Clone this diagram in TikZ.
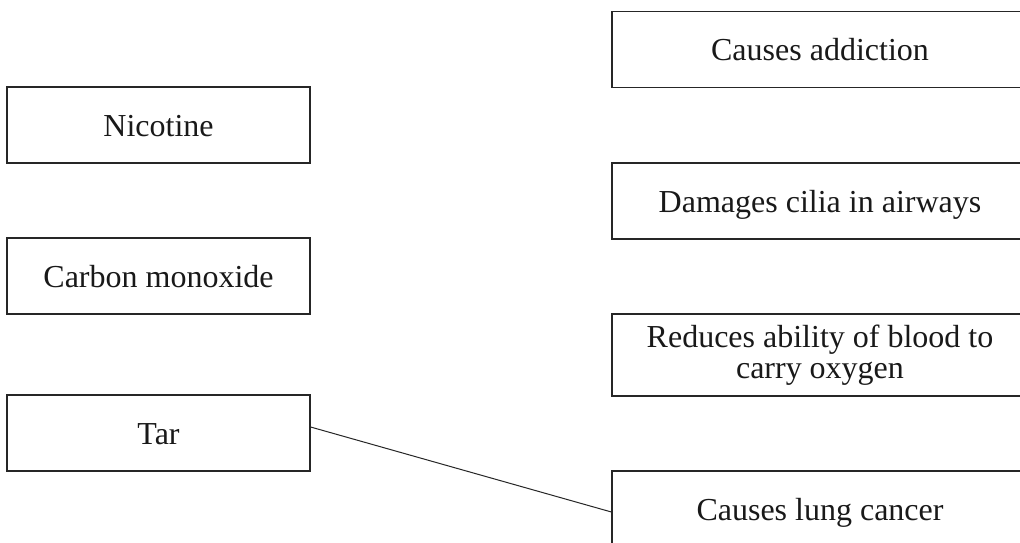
\documentclass[tikz,border=0pt]{standalone}
\usepackage{fontspec}
\setmainfont{Liberation Serif}
\begin{document}
\begin{tikzpicture}[x=1pt,y=-1pt,
  box/.style={draw=black!85,line width=1.2pt,rectangle,inner sep=0pt,align=center,
    font=\fontsize{32}{31.5}\selectfont,text=black!90},
  oneline/.style={text height=22pt,text depth=0pt},
  lbox/.style={box,oneline,minimum width=303pt,minimum height=76pt},
  rbox/.style={box,minimum width=416pt,minimum height=76pt},
  link/.style={draw=black!85,line width=1pt}]
\clip (0,0) rectangle (1020,543);
\fill[white] (0,0) rectangle (1020,543);
\node[lbox] (nic) at (158.5,125) {Nicotine};
\node[lbox] (co) at (158.5,276) {Carbon monoxide};
\node[lbox] (tar) at (158.5,433) {Tar};
\node[rbox,oneline] (add) at (820,49.5) {Causes addiction};
\node[rbox,oneline] (cil) at (820,201) {Damages cilia in airways};
\node[rbox,minimum height=82pt] (red) at (820,355) {Reduces ability of blood to\\carry oxygen};
\node[rbox,oneline] (lung) at (820,509) {Causes lung cancer};
\draw[link] ([yshift=6pt]tar.east) -- ([yshift=-3pt]lung.west);
\end{tikzpicture}
\end{document}
